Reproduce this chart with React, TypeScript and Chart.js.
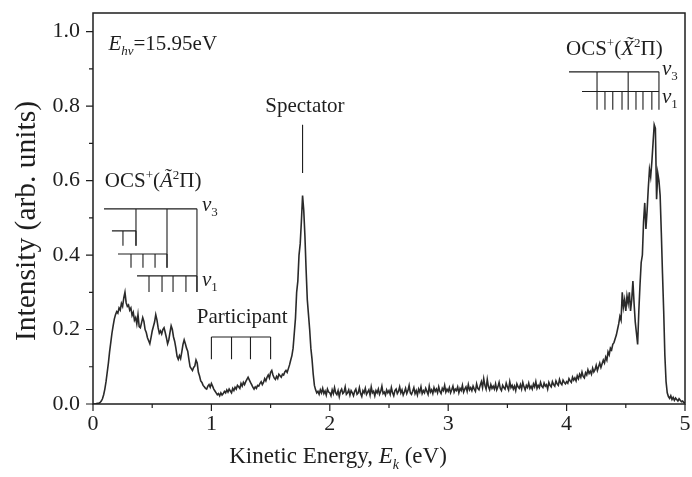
import { useEffect, useRef } from "react";
import { Chart, registerables } from "chart.js";

Chart.register(...registerables);

// ---- data ----
const energyStart = 0;
const energyStep = 0.01;
const intensity = [
  0.000, 0.000, 0.000, 0.001, 0.002, 0.002, 0.004, 0.008, 0.014, 0.025,
  0.040, 0.060, 0.085, 0.110, 0.140, 0.165, 0.190, 0.210, 0.228, 0.240,
  0.248, 0.244, 0.258, 0.252, 0.270, 0.262, 0.285, 0.300, 0.272, 0.262,
  0.266, 0.252, 0.258, 0.238, 0.246, 0.225, 0.232, 0.215, 0.240, 0.208,
  0.205, 0.218, 0.232, 0.222, 0.200, 0.192, 0.178, 0.170, 0.162, 0.178,
  0.196, 0.208, 0.220, 0.240, 0.226, 0.205, 0.190, 0.196, 0.188, 0.200,
  0.205, 0.192, 0.178, 0.162, 0.172, 0.192, 0.210, 0.200, 0.180, 0.168,
  0.150, 0.128, 0.120, 0.130, 0.122, 0.140, 0.160, 0.172, 0.162, 0.150,
  0.142, 0.120, 0.100, 0.095, 0.090, 0.098, 0.102, 0.118, 0.110, 0.085,
  0.075, 0.062, 0.058, 0.050, 0.046, 0.042, 0.040, 0.048, 0.052, 0.045,
  0.055, 0.048, 0.040, 0.035, 0.030, 0.025, 0.028, 0.022, 0.030, 0.024,
  0.028, 0.034, 0.030, 0.038, 0.032, 0.040, 0.035, 0.030, 0.042, 0.036,
  0.045, 0.040, 0.050, 0.046, 0.042, 0.055, 0.048, 0.058, 0.052, 0.060,
  0.066, 0.072, 0.065, 0.058, 0.052, 0.045, 0.040, 0.046, 0.042, 0.050,
  0.048, 0.055, 0.060, 0.052, 0.058, 0.068, 0.062, 0.072, 0.078, 0.070,
  0.085, 0.090, 0.078, 0.070, 0.066, 0.074, 0.068, 0.080, 0.076, 0.072,
  0.080, 0.078, 0.086, 0.090, 0.085, 0.095, 0.105, 0.118, 0.130, 0.150,
  0.190, 0.230, 0.300, 0.330, 0.400, 0.430, 0.490, 0.560, 0.520, 0.450,
  0.360, 0.280, 0.240, 0.200, 0.150, 0.120, 0.080, 0.050, 0.038, 0.030,
  0.034, 0.026, 0.038, 0.030, 0.042, 0.028, 0.035, 0.024, 0.040, 0.032,
  0.030, 0.022, 0.038, 0.028, 0.044, 0.030, 0.025, 0.036, 0.020, 0.034,
  0.040, 0.028, 0.032, 0.046, 0.026, 0.030, 0.038, 0.024, 0.036, 0.030,
  0.022, 0.034, 0.040, 0.026, 0.030, 0.044, 0.028, 0.020, 0.036, 0.030,
  0.042, 0.026, 0.032, 0.038, 0.024, 0.046, 0.030, 0.034, 0.022, 0.036,
  0.030, 0.040, 0.026, 0.034, 0.048, 0.028, 0.032, 0.024, 0.038, 0.030,
  0.036, 0.026, 0.044, 0.030, 0.022, 0.036, 0.040, 0.028, 0.034, 0.046,
  0.030, 0.038, 0.024, 0.032, 0.042, 0.028, 0.036, 0.050, 0.030, 0.026,
  0.034, 0.044, 0.028, 0.036, 0.024, 0.040, 0.032, 0.046, 0.028, 0.036,
  0.030, 0.042, 0.034, 0.026, 0.048, 0.032, 0.038, 0.028, 0.044, 0.034,
  0.040, 0.030, 0.046, 0.034, 0.028, 0.042, 0.036, 0.050, 0.032, 0.040,
  0.034, 0.044, 0.030, 0.038, 0.048, 0.032, 0.040, 0.036, 0.046, 0.030,
  0.042, 0.036, 0.050, 0.032, 0.040, 0.046, 0.034, 0.052, 0.038, 0.044,
  0.036, 0.048, 0.040, 0.034, 0.054, 0.042, 0.038, 0.050, 0.060, 0.044,
  0.068, 0.050, 0.040, 0.066, 0.046, 0.038, 0.052, 0.042, 0.048, 0.040,
  0.054, 0.038, 0.046, 0.058, 0.042, 0.036, 0.050, 0.044, 0.040, 0.056,
  0.046, 0.038, 0.060, 0.044, 0.050, 0.040, 0.048, 0.036, 0.054, 0.046,
  0.042, 0.052, 0.040, 0.058, 0.046, 0.038, 0.050, 0.044, 0.056, 0.042,
  0.048, 0.040, 0.054, 0.046, 0.060, 0.042, 0.050, 0.044, 0.058, 0.048,
  0.044, 0.056, 0.048, 0.052, 0.040, 0.058, 0.050, 0.046, 0.060, 0.052,
  0.048, 0.062, 0.054, 0.050, 0.066, 0.056, 0.052, 0.064, 0.058, 0.054,
  0.060, 0.056, 0.068, 0.062, 0.058, 0.072, 0.064, 0.070, 0.062, 0.076,
  0.068, 0.080, 0.072, 0.086, 0.074, 0.070, 0.084, 0.078, 0.092, 0.082,
  0.088, 0.080, 0.096, 0.086, 0.092, 0.104, 0.090, 0.100, 0.110, 0.098,
  0.108, 0.118, 0.110, 0.126, 0.118, 0.140, 0.132, 0.150, 0.145, 0.160,
  0.165, 0.175, 0.185, 0.200, 0.215, 0.235, 0.225, 0.300, 0.260, 0.280,
  0.250, 0.290, 0.270, 0.300, 0.250, 0.280, 0.330, 0.270, 0.220, 0.190,
  0.160, 0.250, 0.320, 0.380, 0.400, 0.490, 0.540, 0.470, 0.520, 0.580,
  0.630, 0.610, 0.650, 0.700, 0.750, 0.740, 0.550, 0.620, 0.600, 0.560,
  0.460, 0.350, 0.250, 0.130, 0.060, 0.030, 0.020, 0.015, 0.022, 0.012,
  0.018, 0.010, 0.016, 0.012, 0.008, 0.014, 0.010, 0.006, 0.008, 0.004,
  0.003,
];

const xTicks = [0, 1, 2, 3, 4, 5];
const xMinorTicks = [0.5, 1.5, 2.5, 3.5, 4.5];
const yTicks = [0, 0.2, 0.4, 0.6, 0.8, 1.0];
const yMinorTicks = [0.1, 0.3, 0.5, 0.7, 0.9];
const xRange = [0, 5];
const yRange = [0, 1.05];

// annotation combs (data units)
const participantTicks = [1.0, 1.17, 1.33, 1.5];
const participantLevels = [0.18, 0.12];
const spectatorMark = { x: 1.77, top: 0.75, bottom: 0.62 };

const combA = [
  { y: 0.524, x0: 0.093, x1: 0.878, ticks: [0.363, 0.625, 0.878], bottoms: [0.425, 0.366, 0.301] },
  { y: 0.465, x0: 0.16, x1: 0.363, ticks: [0.253, 0.363], bottoms: [0.425, 0.425] },
  { y: 0.403, x0: 0.211, x1: 0.625, ticks: [0.321, 0.422, 0.524, 0.625], bottoms: [0.366, 0.366, 0.366, 0.366] },
  { y: 0.344, x0: 0.372, x1: 0.878, ticks: [0.473, 0.583, 0.676, 0.785, 0.878], bottoms: [0.301, 0.301, 0.301, 0.301, 0.301] },
];
const combX = [
  { y: 0.892, x0: 4.02, x1: 4.78, ticks: [4.257, 4.52, 4.78], bottoms: [0.79, 0.79, 0.79] },
  { y: 0.839, x0: 4.13, x1: 4.78, ticks: [4.324, 4.39, 4.468, 4.586, 4.645, 4.72], bottoms: [0.79, 0.79, 0.79, 0.79, 0.79, 0.79] },
];

const FONT = '"Liberation Serif", "Times New Roman", serif';
const INK = "#1e1e1e";

type Seg = { t: string; it?: boolean; sup?: boolean; sub?: boolean };

function drawRich(ctx: CanvasRenderingContext2D, x: number, y: number, segs: Seg[], size: number, align: "left" | "center" = "left") {
  const fontFor = (s: Seg) => `${s.it ? "italic " : ""}${s.sup || s.sub ? Math.round(size * 0.62) : size}px ${FONT}`;
  let total = 0;
  for (const s of segs) {
    ctx.font = fontFor(s);
    total += ctx.measureText(s.t).width;
  }
  let cx = align === "center" ? x - total / 2 : x;
  ctx.textBaseline = "alphabetic";
  ctx.textAlign = "left";
  for (const s of segs) {
    ctx.font = fontFor(s);
    const dy = s.sup ? -size * 0.38 : s.sub ? size * 0.25 : 0;
    ctx.fillText(s.t, cx, y + dy);
    cx += ctx.measureText(s.t).width;
  }
}

const decorPlugin = {
  id: "decor",
  afterDatasetsDraw(chart: any) {
    const { ctx, chartArea: a, scales } = chart;
    const xs = scales.x;
    const ys = scales.y;
    const px = (v: number) => xs.getPixelForValue(v);
    const py = (v: number) => ys.getPixelForValue(v);
    ctx.save();
    ctx.strokeStyle = INK;
    ctx.fillStyle = INK;

    // frame
    ctx.lineWidth = 1.5;
    ctx.strokeRect(a.left, a.top, a.right - a.left, a.bottom - a.top);

    // ticks
    ctx.lineWidth = 1.2;
    ctx.beginPath();
    for (const v of xTicks) {
      ctx.moveTo(px(v), a.bottom);
      ctx.lineTo(px(v), a.bottom + 7);
    }
    for (const v of xMinorTicks) {
      ctx.moveTo(px(v), a.bottom);
      ctx.lineTo(px(v), a.bottom + 4);
    }
    for (const v of yTicks) {
      ctx.moveTo(a.left, py(v));
      ctx.lineTo(a.left - 7, py(v));
    }
    for (const v of yMinorTicks) {
      ctx.moveTo(a.left, py(v));
      ctx.lineTo(a.left - 4, py(v));
    }
    ctx.stroke();

    // combs
    ctx.lineWidth = 1.1;
    const drawComb = (c: any) => {
      ctx.beginPath();
      ctx.moveTo(px(c.x0), py(c.y));
      ctx.lineTo(px(c.x1), py(c.y));
      c.ticks.forEach((t: number, i: number) => {
        ctx.moveTo(px(t), py(c.y));
        ctx.lineTo(px(t), py(c.bottoms[i]));
      });
      ctx.stroke();
    };
    combA.forEach(drawComb);
    combX.forEach(drawComb);

    ctx.beginPath();
    ctx.moveTo(px(participantTicks[0]), py(participantLevels[0]));
    ctx.lineTo(px(participantTicks[participantTicks.length - 1]), py(participantLevels[0]));
    for (const t of participantTicks) {
      ctx.moveTo(px(t), py(participantLevels[0]));
      ctx.lineTo(px(t), py(participantLevels[1]));
    }
    ctx.moveTo(px(spectatorMark.x), py(spectatorMark.top));
    ctx.lineTo(px(spectatorMark.x), py(spectatorMark.bottom));
    ctx.stroke();

    // texts
    const S = 21;
    drawRich(ctx, px(0.13), py(0.95), [
      { t: "E", it: true },
      { t: "hν", it: true, sub: true },
      { t: "=15.95eV" },
    ], S);
    drawRich(ctx, px(1.79), py(0.785), [{ t: "Spectator" }], S, "center");
    drawRich(ctx, px(1.26), py(0.218), [{ t: "Participant" }], S, "center");
    drawRich(ctx, px(0.1), py(0.583), [
      { t: "OCS" }, { t: "+", sup: true }, { t: "(" }, { t: "Ã", it: true }, { t: "2", sup: true }, { t: "Π)" },
    ], S);
    drawRich(ctx, px(3.995), py(0.938), [
      { t: "OCS" }, { t: "+", sup: true }, { t: "(" }, { t: "X\u0303", it: true }, { t: "2", sup: true }, { t: "Π)" },
    ], S);
    drawRich(ctx, px(0.92), py(0.518), [{ t: "ν", it: true }, { t: "3", sub: true }], S);
    drawRich(ctx, px(0.92), py(0.318), [{ t: "ν", it: true }, { t: "1", sub: true }], S);
    drawRich(ctx, px(4.806), py(0.884), [{ t: "ν", it: true }, { t: "3", sub: true }], S);
    drawRich(ctx, px(4.806), py(0.809), [{ t: "ν", it: true }, { t: "1", sub: true }], S);

    // axis titles
    drawRich(ctx, 338, a.bottom + 59, [
      { t: "Kinetic Energy, " }, { t: "E", it: true }, { t: "k", it: true, sub: true }, { t: " (eV)" },
    ], 23, "center");
    ctx.save();
    ctx.translate(35, 221);
    ctx.rotate(-Math.PI / 2);
    drawRich(ctx, 0, 0, [{ t: "Intensity (arb. units)" }], 29.5, "center");
    ctx.restore();

    ctx.restore();
  },
};

export default function App() {
  const ref = useRef<HTMLCanvasElement | null>(null);
  useEffect(() => {
    if (!ref.current) return;
    const points = intensity.map((v, i) => ({ x: energyStart + i * energyStep, y: v }));
    const chart = new Chart(ref.current, {
      type: "line",
      data: {
        datasets: [
          {
            data: points,
            borderColor: "#2a2a2a",
            borderWidth: 1.6,
            pointRadius: 0,
            tension: 0,
            fill: false,
          },
        ],
      },
      options: {
        animation: false,
        responsive: true,
        maintainAspectRatio: false,
        layout: { padding: { top: 13, right: 7, left: 0, bottom: 0 } },
        plugins: { legend: { display: false }, tooltip: { enabled: false } },
        scales: {
          x: {
            type: "linear",
            min: xRange[0],
            max: xRange[1],
            afterBuildTicks: (s: any) => { s.ticks = xTicks.map((v) => ({ value: v })); },
            afterFit: (s: any) => { s.height = 73; s.paddingLeft = 0; s.paddingRight = 0; },
            grid: { display: false, drawTicks: false },
            border: { display: false },
            ticks: {
              padding: 7,
              color: INK,
              font: { family: FONT, size: 22 },
              callback: (v: any) => String(v),
            },
          },
          y: {
            type: "linear",
            min: yRange[0],
            max: yRange[1],
            afterBuildTicks: (s: any) => { s.ticks = yTicks.map((v) => ({ value: v })); },
            afterFit: (s: any) => { s.width = 93; s.paddingTop = 0; s.paddingBottom = 0; },
            grid: { display: false, drawTicks: false },
            border: { display: false },
            ticks: {
              padding: 13,
              color: INK,
              font: { family: FONT, size: 22 },
              callback: (v: any) => Number(v).toFixed(1),
            },
          },
        },
      },
      plugins: [decorPlugin],
    });
    return () => chart.destroy();
  }, []);
  return (
    <div style={{ position: "fixed", left: 0, top: 0, width: 692, height: 477, background: "#fff" }}>
      <canvas ref={ref} />
    </div>
  );
}
